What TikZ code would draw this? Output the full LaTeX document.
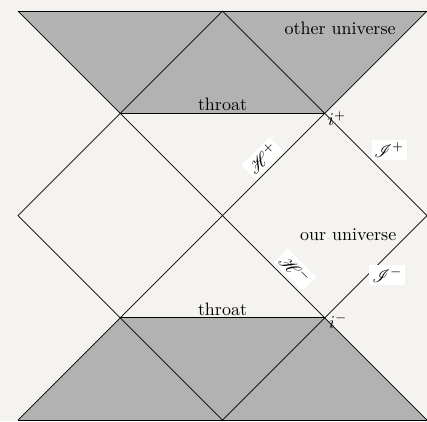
\documentclass[tikz,border=0pt]{standalone}
\usepackage{mathrsfs}
\usetikzlibrary{positioning, backgrounds}
\definecolor{paper}{RGB}{245,243,239}

\begin{document}
\begin{tikzpicture}[
    x=2cm, y=2cm,
    region/.style={fill=gray!60, draw=none},
    line/.style={draw=black, thin},
    tag/.style={inner sep=1pt, font=\normalsize},
    scri/.style={fill=white, inner sep=1.5pt}
]

% 0. PAPER
\fill[paper] (-0.176, -0.01) rectangle (4, 4.108);
\useasboundingbox (-0.176, -0.01) rectangle (4, 4.108);

% 1. CORNERS OF THE DIAGRAM
\coordinate (TL) at (0, 4);
\coordinate (TM) at (2, 4);
\coordinate (TR) at (4, 4);
\coordinate (L1) at (1, 3);
\coordinate (R1) at (3, 3);
\coordinate (W)  at (0, 2);
\coordinate (C)  at (2, 2);
\coordinate (E)  at (4, 2);
\coordinate (L2) at (1, 1);
\coordinate (R2) at (3, 1);
\coordinate (BL) at (0, 0);
\coordinate (BM) at (2, 0);
\coordinate (BR) at (4, 0);

% 2. SHADED REGIONS (other side of the throat)
\fill[region] (TL) -- (TR) -- (R1) -- (L1) -- cycle;
\fill[region] (BL) -- (BR) -- (R2) -- (L2) -- cycle;

% 3. LINES
\draw[line] (TL) -- (TR);
\draw[line] (BL) -- (BR);
\draw[line] (L1) -- (R1);
\draw[line] (L2) -- (R2);
\draw[line] (TL) -- (L1) -- (C) -- (R2) -- (BR);
\draw[line] (TR) -- (R1) -- (C) -- (L2) -- (BL);
\draw[line] (L1) -- (TM) -- (R1);
\draw[line] (L2) -- (BM) -- (R2);
\draw[line] (L1) -- (W) -- (L2);
\draw[line] (R1) -- (E) -- (R2);

% 4. LABELS
\node[tag] (other) at (3.15, 3.83) {other universe};
\node[tag] (our) at (3.23, 1.81) {our universe};
\node[tag, anchor=south] (throatT) at (2, 3) {throat};
\node[tag, anchor=south] (throatB) at (2, 1) {throat};
\node[tag] (ip) at (3.12, 2.95) {$i^+$};
\node[tag] (im) at (3.13, 0.97) {$i^-$};
\node[scri] (scrip) at (3.63, 2.64) {$\mathscr{I}^+$};
\node[scri] (scrim) at (3.61, 1.42) {$\mathscr{I}^-$};
\node[scri, rotate=45] (horp) at (2.39, 2.56) {$\mathscr{H}^+$};
\node[scri, rotate=-45] (horm) at (2.71, 1.47) {$\mathscr{H}^-$};

\end{tikzpicture}
\end{document}
